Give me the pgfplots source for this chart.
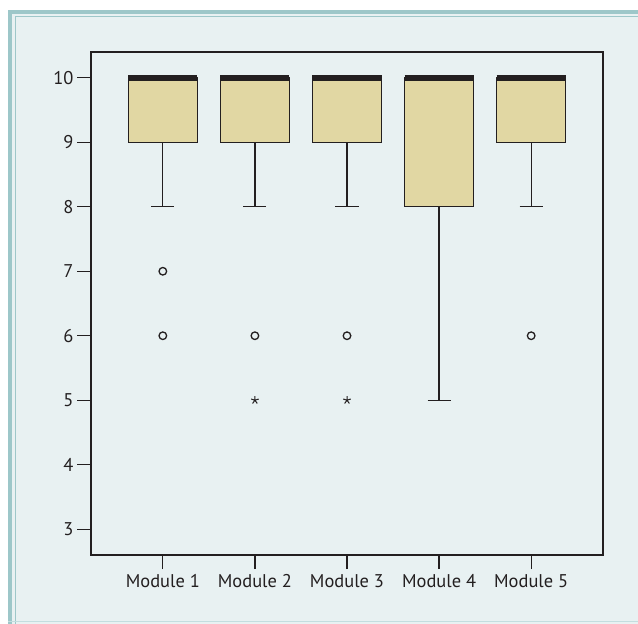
\documentclass[border=0pt]{standalone}
\usepackage{fontspec}
\setmainfont{PT Sans}
\usepackage{pgfplots}
\pgfplotsset{compat=1.18}
\usepgfplotslibrary{statistics}
\definecolor{bg}{HTML}{E8F1F2}
\definecolor{framec}{HTML}{9DC7C9}
\definecolor{boxfill}{HTML}{E1D7A3}
\definecolor{ink}{HTML}{231F20}
\begin{document}
\begin{tikzpicture}
\useasboundingbox (0,0) rectangle (638bp,624bp);
\fill[white] (0,0) rectangle (638bp,624bp);
\fill[bg] (8bp,0) rectangle (638bp,614bp);
\draw[framec, line width=4bp] (10bp,0) -- (10bp,612bp) -- (638bp,612bp);
\draw[framec, line width=1.2bp] (15.5bp,0) -- (15.5bp,607.5bp) -- (638bp,607.5bp);
\draw[framec!60, line width=1bp] (8bp,2bp) -- (638bp,2bp);
\begin{axis}[
  at={(91bp,69bp)}, anchor=south west,
  scale only axis, width=512bp, height=503bp,
  xmin=0.22, xmax=5.78, ymin=2.6, ymax=10.4,
  xtick={1,2,3,4,5},
  xticklabels={Module 1,Module 2,Module 3,Module 4,Module 5},
  ytick={3,4,5,6,7,8,9,10},
  tick pos=left,
  tick align=outside,
  major tick length=14bp,
  tick style={ink, line width=1.2bp},
  axis line style={ink, line width=1.5bp},
  /pgf/number format/assume math mode=true,
  tick label style={font=\fontsize{18.5}{22}\selectfont, text=ink},
  xticklabel style={yshift=-2bp},
  boxplot/draw direction=y,
  boxplot/every median/.style={draw=ink, line width=6bp},
]
\addplot[boxplot prepared={draw position=1, lower whisker=8, lower quartile=9, median=10, upper quartile=10, upper whisker=10, box extend=0.75, whisker extend=0.25}, draw=ink, fill=boxfill, line width=1.3bp] coordinates {};
\addplot[boxplot prepared={draw position=2, lower whisker=8, lower quartile=9, median=10, upper quartile=10, upper whisker=10, box extend=0.75, whisker extend=0.25}, draw=ink, fill=boxfill, line width=1.3bp] coordinates {};
\addplot[boxplot prepared={draw position=3, lower whisker=8, lower quartile=9, median=10, upper quartile=10, upper whisker=10, box extend=0.75, whisker extend=0.25}, draw=ink, fill=boxfill, line width=1.3bp] coordinates {};
\addplot[boxplot prepared={draw position=4, lower whisker=5, lower quartile=8, median=10, upper quartile=10, upper whisker=10, box extend=0.75, whisker extend=0.25}, draw=ink, fill=boxfill, line width=1.3bp] coordinates {};
\addplot[boxplot prepared={draw position=5, lower whisker=8, lower quartile=9, median=10, upper quartile=10, upper whisker=10, box extend=0.75, whisker extend=0.25}, draw=ink, fill=boxfill, line width=1.3bp] coordinates {};
\addplot[only marks, mark=o, mark size=3.8bp, draw=ink, line width=1.3bp] coordinates {(1,7) (1,6) (2,6) (3,6) (5,6)};
\addplot[only marks, mark=star, mark size=4bp, draw=ink, line width=1bp] coordinates {(2,5) (3,5)};
\end{axis}
\end{tikzpicture}
\end{document}
